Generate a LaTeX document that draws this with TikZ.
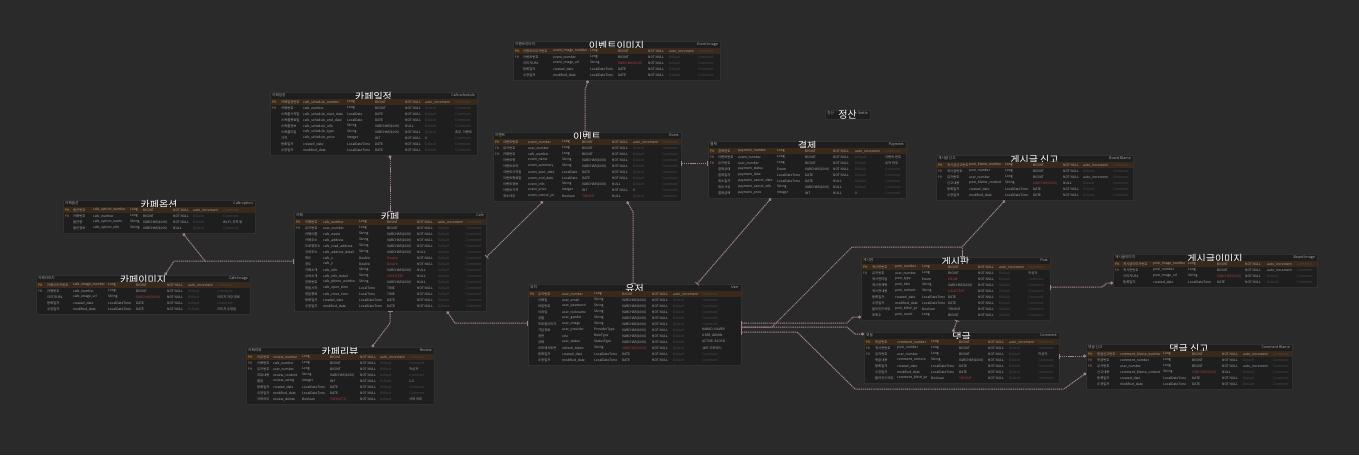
\documentclass[tikz,border=0pt]{standalone}
\usepackage{fontspec}
\setmainfont{Noto Sans CJK KR}
\usepackage{tikz}
\usetikzlibrary{arrows.meta}

\definecolor{bgc}{HTML}{2A2A2A}
\definecolor{tblc}{HTML}{1E1E1E}
\definecolor{tbld}{HTML}{303030}
\definecolor{rowc}{HTML}{A8A8A8}
\definecolor{dimc}{HTML}{4C4C4C}
\definecolor{pkband}{HTML}{38291B}
\definecolor{pkc}{HTML}{D9A441}
\definecolor{fkc}{HTML}{A08A6A}
\definecolor{dbred}{HTML}{B83C3C}
\definecolor{lnk}{HTML}{A0828F}
\definecolor{pinc}{HTML}{D8B4C4}

\tikzset{
  tbl/.style={fill=tblc, draw=tbld, line width=0.4pt, inner sep=0pt, anchor=north west},
  cell/.style={anchor=west, inner sep=0pt, text=rowc, font=\fontsize{3.3}{3.6}\selectfont},
  hdsmall/.style={inner sep=0pt, text=rowc, font=\fontsize{3.6}{4}\selectfont},
  hdtitle/.style={inner sep=0pt, text=white, font=\fontsize{10}{11}\selectfont},
  rel/.style={draw=lnk, line width=1pt, dash pattern=on 1.2pt off 0.7pt},
  rone/.tip={Bar[width=5pt,line width=0.7pt,color=lnk]},
  rpin/.tip={Circle[length=3pt,color=lnk,fill=pinc]}
}

\newcount\rowno
\newcommand\pk{\textcolor{pkc}{PK}}
\newcommand\fk{\textcolor{fkc}{FK}}
\newcommand\rd[1]{\textcolor{dbred}{#1}}
\newcommand\cols[8]{\def\colA{#1}\def\colB{#2}\def\colC{#3}\def\colD{#4}\def\colE{#5}\def\colF{#6}\def\colG{#7}\def\colH{#8}}
% table frame and header: name, left, top, right, bottom, logical name, title, entity
\newcommand\etable[8]{%
  \def\tname{#1}\def\tleft{#2}\def\ttop{#3}\def\tright{#4}\global\rowno=0
  \node[tbl, minimum width={#4-#2}, minimum height={#5-#3}] (#1) at (#2,#3) {};
  \node[hdsmall, anchor=west] (#1-lname) at (#2+2,#3+3.5) {#6};
  \node[hdtitle] (#1-title) at ({(#2+#4)/2},#3+4.5) {#7};
  \node[hdsmall, anchor=east] (#1-ename) at (#4-2,#3+3.5) {#8};
}
% one column row: key, logical, physical, type, db type, null, default, comment
\newcommand\erow[8]{%
  \global\advance\rowno by 1
  \edef\rn{\the\rowno}%
  \pgfmathsetmacro\ry{\ttop+10+6*(\rn-1)}%
  \ifnum\rowno=1 \fill[pkband] (\tleft+0.5,\ry-3) rectangle (\tright-0.5,\ry+3);\fi
  \node[cell] (\tname-\rn-key) at (\colA,\ry) {#1};
  \node[cell] (\tname-\rn-lname) at (\colB,\ry) {#2};
  \node[cell] (\tname-\rn-pname) at (\colC,\ry) {#3};
  \node[cell] (\tname-\rn-type) at (\colD,\ry) {#4};
  \node[cell] (\tname-\rn-db) at (\colE,\ry) {#5};
  \node[cell] (\tname-\rn-null) at (\colF,\ry) {#6};
  \node[cell] (\tname-\rn-extra) at (\colG,\ry) {\if\relax\detokenize{#7}\relax\textcolor{dimc}{Default}\else#7\fi};
  \node[cell] (\tname-\rn-note) at (\colH,\ry) {\if\relax\detokenize{#8}\relax\textcolor{dimc}{Comment}\else#8\fi};
}

\begin{document}
\catcode`\_=12
\begin{tikzpicture}[x=1pt,y=1pt,yscale=-1,xscale=1]
\useasboundingbox (0,0) rectangle (1359,455);
\fill[bgc] (0,0) rectangle (1359,455);

%Table: 이벤트이미지
\etable{evimg}{513}{41}{720}{80}{이벤트이미지}{이벤트이미지}{Event Image}
\cols{515}{523}{553}{590}{618}{648}{669}{698}
\erow{\pk}{이벤트이미지번호}{event_image_number}{Long}{BIGINT}{NOT NULL}{auto_increment}{}
\erow{\fk}{이벤트번호}{event_number}{Long}{BIGINT}{NOT NULL}{}{}
\erow{}{이미지URL}{event_image_url}{String}{\rd{VARCHAR(1000)}}{NOT NULL}{}{}
\erow{}{등록일자}{created_date}{LocalDateTime}{DATE}{NOT NULL}{}{}
\erow{}{수정일자}{modified_date}{LocalDateTime}{DATE}{NOT NULL}{}{}

%Table: 이벤트
\etable{event}{493}{132}{681}{201}{이벤트}{이벤트}{Event}
\cols{495}{503}{528}{562}{582}{612}{633}{662}
\erow{\pk}{이벤트번호}{event_number}{Long}{BIGINT}{NOT NULL}{auto_increment}{}
\erow{\fk}{유저번호}{user_number}{Long}{BIGINT}{NOT NULL}{}{}
\erow{\fk}{카페번호}{cafe_number}{Long}{BIGINT}{NOT NULL}{}{}
\erow{}{이벤트명}{event_name}{String}{VARCHAR(1000)}{NOT NULL}{}{}
\erow{}{이벤트요약}{event_summary}{String}{VARCHAR(1000)}{NOT NULL}{}{}
\erow{}{이벤트시작일}{event_start_date}{LocalDate}{DATE}{NOT NULL}{}{}
\erow{}{이벤트종료일}{event_end_date}{LocalDate}{DATE}{NOT NULL}{}{}
\erow{}{이벤트정보}{event_info}{String}{VARCHAR(1000)}{NULL}{}{}
\erow{}{이벤트가격}{event_price}{Integer}{INT}{NOT NULL}{0}{}
\erow{}{취소여부}{event_cancel_yn}{Boolean}{\rd{TINYINT}}{NULL}{}{}

%Table: 카페일정
\etable{cafesch}{270}{92}{477}{155}{카페일정}{카페일정}{Cafe schedule}
\cols{272}{281}{303}{347}{375}{405}{425}{455}
\erow{\pk}{카페일정번호}{cafe_schedule_number}{Long}{BIGINT}{NOT NULL}{auto_increment}{}
\erow{\fk}{카페번호}{cafe_number}{Long}{BIGINT}{NOT NULL}{}{}
\erow{}{스케줄시작일}{cafe_schedule_start_date}{LocalDate}{DATE}{NOT NULL}{}{}
\erow{}{스케줄종료일}{cafe_schedule_end_date}{LocalDate}{DATE}{NOT NULL}{}{}
\erow{}{스케줄정보}{cafe_schedule_info}{String}{VARCHAR(1000)}{NULL}{}{}
\erow{}{스케줄타입}{cafe_schedule_type}{String}{VARCHAR(1000)}{NOT NULL}{}{휴무, 이벤트}
\erow{}{가격}{cafe_schedule_price}{Integer}{INT}{NOT NULL}{0}{}
\erow{}{등록일자}{created_date}{LocalDateTime}{DATE}{NOT NULL}{}{}
\erow{}{수정일자}{modified_date}{LocalDateTime}{DATE}{NOT NULL}{}{}

%Table: 카페
\etable{cafe}{294}{212}{486}{311}{카페}{카페}{Cafe}
\cols{296}{305}{323}{359}{387}{417}{438}{466}
\erow{\pk}{카페번호}{cafe_number}{Long}{BIGINT}{NOT NULL}{auto_increment}{}
\erow{\fk}{유저번호}{user_number}{Long}{BIGINT}{NOT NULL}{}{}
\erow{}{카페이름}{cafe_name}{String}{VARCHAR(1000)}{NOT NULL}{}{}
\erow{}{카페주소}{cafe_address}{String}{VARCHAR(1000)}{NOT NULL}{}{}
\erow{}{도로명주소}{cafe_road_address}{String}{VARCHAR(1000)}{NOT NULL}{}{}
\erow{}{상세주소}{cafe_address_detail}{String}{VARCHAR(1000)}{NULL}{}{}
\erow{}{위도}{cafe_x}{Double}{\rd{Double}}{NOT NULL}{}{}
\erow{}{경도}{cafe_y}{Double}{\rd{Double}}{NOT NULL}{}{}
\erow{}{카페소개}{cafe_info}{String}{VARCHAR(1000)}{NULL}{}{}
\erow{}{상세소개}{cafe_info_detail}{String}{\rd{LONGTEXT}}{NULL}{}{}
\erow{}{전화번호}{cafe_phone_number}{String}{VARCHAR(1000)}{NULL}{}{}
\erow{}{영업시작}{cafe_open_time}{LocalTime}{TIME}{NOT NULL}{}{}
\erow{}{영업종료}{cafe_close_time}{LocalTime}{TIME}{NOT NULL}{}{}
\erow{}{등록일자}{created_date}{LocalDateTime}{DATE}{NOT NULL}{}{}
\erow{}{수정일자}{modified_date}{LocalDateTime}{DATE}{NOT NULL}{}{}

%Table: 카페옵션
\etable{cafeopt}{63}{200}{255}{233}{카페옵션}{카페옵션}{Cafe option}
\cols{65}{73}{93}{130}{143}{173}{193}{223}
\erow{\pk}{옵션번호}{cafe_option_number}{Long}{BIGINT}{NOT NULL}{auto_increment}{}
\erow{\fk}{카페번호}{cafe_number}{Long}{BIGINT}{NOT NULL}{}{}
\erow{}{옵션명}{cafe_option_name}{String}{VARCHAR(1000)}{NOT NULL}{}{Wi-Fi, 주차 등}
\erow{}{옵션정보}{cafe_option_info}{String}{VARCHAR(1000)}{NULL}{}{}

%Table: 카페이미지
\etable{cafeimg}{36}{275}{250}{314}{카페이미지}{카페이미지}{Cafe Image}
\cols{38}{47}{73}{108}{136}{167}{188}{217}
\erow{\pk}{카페이미지번호}{cafe_image_number}{Long}{BIGINT}{NOT NULL}{auto_increment}{}
\erow{\fk}{카페번호}{cafe_number}{Long}{BIGINT}{NOT NULL}{}{}
\erow{}{이미지URL}{cafe_image_url}{String}{\rd{VARCHAR(1000)}}{NOT NULL}{}{이미지 저장 경로}
\erow{}{등록일자}{created_date}{LocalDateTime}{DATE}{NOT NULL}{}{}
\erow{}{수정일자}{modified_date}{LocalDateTime}{DATE}{NOT NULL}{}{이미지 수정일}

%Table: 정산
\etable{settle}{825}{110}{870}{119}{정산}{정산}{Settle}

%Table: 결제
\etable{pay}{708}{141}{906}{198}{결제}{결제}{Payment}
\cols{710}{718}{738}{777}{805}{833}{855}{885}
\erow{\pk}{결제번호}{payment_number}{Long}{BIGINT}{NOT NULL}{auto_increment}{}
\erow{\fk}{이벤트번호}{event_number}{Long}{BIGINT}{NOT NULL}{}{이벤트 번호}
\erow{\fk}{유저번호}{user_number}{Long}{BIGINT}{NOT NULL}{}{유저 번호}
\erow{}{결제상태}{payment_status}{Enum}{VARCHAR(1000)}{NOT NULL}{}{}
\erow{}{결제일자}{payment_date}{LocalDateTime}{DATE}{NOT NULL}{}{}
\erow{}{취소일자}{payment_cancel_date}{LocalDateTime}{DATE}{NULL}{}{}
\erow{}{취소사유}{payment_cancel_info}{String}{VARCHAR(1000)}{NULL}{}{}
\erow{}{결제금액}{payment_price}{Integer}{INT}{NULL}{0}{}

%Table: 게시글 신고
\etable{postblame}{936}{155}{1133}{200}{게시글 신고}{게시글 신고}{Board Blame}
\cols{938}{947}{969}{1005}{1033}{1063}{1083}{1113}
\erow{\pk}{게시글신고번호}{post_blame_number}{Long}{BIGINT}{NOT NULL}{auto_increment}{}
\erow{\fk}{게시글번호}{post_number}{Long}{BIGINT}{NOT NULL}{}{}
\erow{\fk}{유저번호}{user_number}{Long}{BIGINT}{NOT NULL}{auto_increment}{}
\erow{}{신고내용}{post_blame_content}{String}{\rd{VARCHAR(1000)}}{NULL}{}{}
\erow{}{등록일자}{created_date}{LocalDateTime}{DATE}{NOT NULL}{}{}
\erow{}{수정일자}{modified_date}{LocalDateTime}{DATE}{NOT NULL}{}{}

%Table: 유저
\etable{user}{528}{284}{741}{365}{유저}{유저}{User}
\cols{530}{538}{562}{594}{622}{652}{673}{702}
\erow{\pk}{유저번호}{user_number}{Long}{BIGINT}{NOT NULL}{auto_increment}{}
\erow{}{이메일}{user_email}{String}{VARCHAR(1000)}{NOT NULL}{}{}
\erow{}{비밀번호}{user_password}{String}{VARCHAR(1000)}{NOT NULL}{}{}
\erow{}{닉네임}{user_nickname}{String}{VARCHAR(1000)}{NOT NULL}{}{}
\erow{}{성별}{user_gender}{String}{VARCHAR(1000)}{NOT NULL}{}{}
\erow{}{프로필이미지}{user_image}{String}{VARCHAR(1000)}{NOT NULL}{}{}
\erow{}{가입경로}{user_provider}{ProviderType}{VARCHAR(1000)}{NOT NULL}{}{KAKAO, NAVER}
\erow{}{권한}{role}{RoleType}{VARCHAR(1000)}{NOT NULL}{}{USER, ADMIN}
\erow{}{상태}{user_status}{StatusType}{VARCHAR(1000)}{NOT NULL}{}{ACTIVE, BLOCK}
\erow{}{리프레시토큰}{refresh_token}{String}{\rd{VARCHAR(1000)}}{NOT NULL}{}{JWT 리프레시}
\erow{}{등록일자}{created_date}{LocalDateTime}{DATE}{NOT NULL}{}{}
\erow{}{수정일자}{modified_date}{LocalDateTime}{DATE}{NOT NULL}{}{}

%Table: 카페리뷰
\etable{review}{246}{347}{434}{404}{카페리뷰}{카페리뷰}{Review}
\cols{248}{257}{273}{302}{330}{360}{380}{409}
\erow{\pk}{리뷰번호}{review_number}{Long}{BIGINT}{NOT NULL}{auto_increment}{}
\erow{\fk}{카페번호}{cafe_number}{Long}{BIGINT}{NOT NULL}{}{}
\erow{\fk}{유저번호}{user_number}{Long}{BIGINT}{NOT NULL}{}{작성자}
\erow{}{리뷰내용}{review_content}{String}{VARCHAR(1000)}{NOT NULL}{}{}
\erow{}{별점}{review_rating}{Integer}{INT}{NOT NULL}{}{1-5}
\erow{}{등록일자}{created_date}{LocalDateTime}{DATE}{NOT NULL}{}{}
\erow{}{수정일자}{modified_date}{LocalDateTime}{DATE}{NOT NULL}{}{}
\erow{}{삭제여부}{review_delete}{Boolean}{\rd{TINYINT(1)}}{NOT NULL}{}{삭제 여부}

%Table: 게시판
\etable{post}{861}{257}{1050}{320}{게시판}{게시판}{Post}
\cols{863}{872}{895}{922}{948}{978}{999}{1028}
\erow{\pk}{게시판번호}{post_number}{Long}{BIGINT}{NOT NULL}{auto_increment}{}
\erow{\fk}{유저번호}{user_number}{Long}{BIGINT}{NOT NULL}{}{작성자}
\erow{}{게시판타입}{post_type}{Enum}{\rd{ENUM}}{NOT NULL}{}{}
\erow{}{게시판제목}{post_title}{String}{VARCHAR(1000)}{NOT NULL}{}{}
\erow{}{게시판내용}{post_content}{String}{\rd{LONGTEXT}}{NOT NULL}{}{}
\erow{}{등록일자}{created_date}{LocalDateTime}{DATE}{NOT NULL}{}{}
\erow{}{수정일자}{modified_date}{LocalDateTime}{DATE}{NOT NULL}{}{}
\erow{}{블라인드여부}{post_blind_yn}{Boolean}{TINYINT}{NOT NULL}{}{}
\erow{}{조회수}{post_count}{Long}{BIGINT}{NOT NULL}{}{}

%Table: 댓글
\etable{comment}{864}{332}{1059}{383}{댓글}{댓글}{Comment}
\cols{866}{875}{897}{931}{959}{988}{1009}{1038}
\erow{\pk}{댓글번호}{comment_number}{Long}{BIGINT}{NOT NULL}{auto_increment}{}
\erow{\fk}{게시판번호}{post_number}{Long}{BIGINT}{NOT NULL}{}{}
\erow{\fk}{유저번호}{user_number}{Long}{BIGINT}{NOT NULL}{}{작성자}
\erow{}{댓글내용}{comment_content}{String}{VARCHAR(1000)}{NOT NULL}{}{}
\erow{}{등록일자}{created_date}{LocalDateTime}{DATE}{NOT NULL}{}{}
\erow{}{수정일자}{modified_date}{LocalDateTime}{DATE}{NOT NULL}{}{}
\erow{}{블라인드여부}{comment_blind_yn}{Boolean}{\rd{TINYINT}}{NOT NULL}{}{}

%Table: 게시글이미지
\etable{postimg}{1113}{254}{1317}{287}{게시글이미지}{게시글이미지}{Board Image}
\cols{1115}{1123}{1153}{1188}{1217}{1245}{1267}{1297}
\erow{\pk}{게시글이미지번호}{post_image_number}{Long}{BIGINT}{NOT NULL}{auto_increment}{}
\erow{\fk}{게시판번호}{post_number}{Long}{BIGINT}{NOT NULL}{auto_increment}{}
\erow{}{이미지URL}{post_image_url}{String}{\rd{VARCHAR(1000)}}{NOT NULL}{}{}
\erow{}{등록일자}{created_date}{LocalDateTime}{DATE}{NOT NULL}{}{}

%Table: 댓글 신고
\etable{cmtblame}{1086}{344}{1292}{389}{댓글 신고}{댓글 신고}{Comment Blame}
\cols{1088}{1097}{1120}{1163}{1192}{1222}{1243}{1273}
\erow{\pk}{댓글신고번호}{comment_blame_number}{Long}{BIGINT}{NOT NULL}{auto_increment}{}
\erow{\fk}{댓글번호}{comment_number}{Long}{BIGINT}{NOT NULL}{}{}
\erow{\fk}{유저번호}{user_number}{Long}{BIGINT}{NOT NULL}{auto_increment}{}
\erow{}{신고내용}{comment_blame_content}{String}{\rd{VARCHAR(1000)}}{NULL}{}{}
\erow{}{등록일자}{created_date}{LocalDateTime}{DATE}{NOT NULL}{}{}
\erow{}{수정일자}{modified_date}{LocalDateTime}{DATE}{NOT NULL}{}{}

%Straight Lines
\coordinate (cafejoin) at (205,261);
\coordinate (blamejoin) at (962,247);
\draw[rel,{rone}-{rpin}] ([xshift=92pt]event.north west) -- (585,90) -- ([xshift=75pt]evimg.south west);
\draw[rel,{rone}-{rpin}] ([xshift=96pt]cafe.north west) -- ([xshift=120pt]cafesch.south west);
\draw[rel,{rone}-{rpin}] ([yshift=49pt]cafe.north west) -- (cafejoin) -- ([xshift=120pt]cafeopt.south west);
\draw[rel,-{rpin}] (cafejoin) -- (174,261) -- ([xshift=129pt]cafeimg.north west);
\draw[rel,{rone}-{rpin}] ([yshift=45pt]cafe.north east) -- ([xshift=50pt]event.south west);
\draw[rel,{rone}-{rpin}] ([xshift=105pt]user.north west) -- (633,212) -- ([xshift=134pt]event.south west);
\draw[rel,{rone}-{rpin}] ([xshift=169pt]user.north west) -- ([xshift=63pt]pay.south west);
\draw[rel,{rone}-{rone}] ([yshift=31pt]event.north east) -- ([yshift=22pt]pay.north west);
\draw[rel,{rone}-{rpin}] ([yshift=39pt]user.north west) -- (455,323) -- ([xshift=153pt]cafe.south west);
\draw[rel,{rone}-{rpin}] ([xshift=96pt]cafe.south west) -- (390,323) -- ([xshift=126pt]review.north west);
\draw[rel,{rone}-{rpin}] ([yshift=39pt]user.north east) -- (847,323) -- (853,317) -- ([yshift=60pt]post.north west);
\draw[rel,{rone}-{rpin}] ([yshift=43pt]user.north east) -- (847,327) -- (855,334) -- ([yshift=2pt]comment.north west);
\draw[rel,{rone}-{rpin}] ([yshift=48pt]user.north east) -- (797,332) -- (855,389) -- (1064,389) -- ([yshift=29pt]cmtblame.north west);
\draw[rel,-{rpin}] ([yshift=43pt]user.north east) -- (772,327) -- (852,247) -- (blamejoin) -- ([xshift=69pt]postblame.south west);
\draw[rel,{rone}-] ([xshift=101pt]post.north west) -- (blamejoin);
\draw[rel,{rone}-{rpin}] ([xshift=96pt]post.south west) -- ([xshift=89pt]comment.north west);
\draw[rel,{rone}-{rpin}] ([yshift=30pt]post.north east) -- (1102,287) -- (1107,283) -- ([yshift=29pt]postimg.north west);
\draw[rel,{rone}-{rpin}] ([yshift=24pt]comment.north east) -- ([yshift=12pt]cmtblame.north west);

\end{tikzpicture}
\end{document}
